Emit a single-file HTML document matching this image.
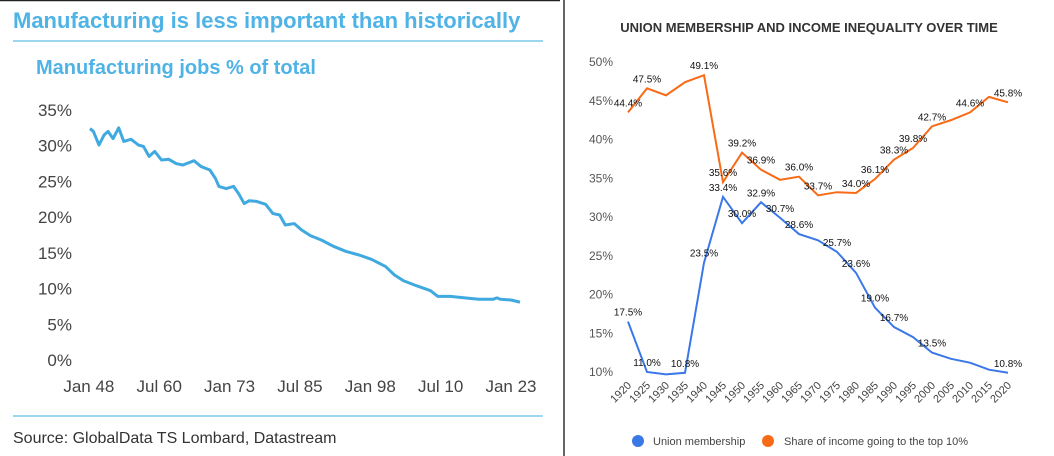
<!DOCTYPE html>
<html><head><meta charset="utf-8">
<style>
body{margin:0;width:1054px;height:456px;background:#fff;overflow:hidden;font-family:"Liberation Sans",sans-serif}
svg{position:absolute;left:0;top:0}
</style></head>
<body>
<svg id="s" width="1054" height="456">
<rect x="0" y="0" width="1054" height="456" fill="#fff"/>
<line x1="0" y1="0.5" x2="560" y2="0.5" stroke="#222" stroke-width="1.5"/>
<line x1="564" y1="0" x2="564" y2="456" stroke="#333" stroke-width="1.5"/>
<text x="13" y="28" font-size="22" font-weight="bold" fill="#4fb3e6">Manufacturing is less important than historically</text>
<line x1="13" y1="41" x2="543" y2="41" stroke="#7cc8ec" stroke-width="1.5"/>
<text x="36" y="74" font-size="20" font-weight="bold" fill="#4fb3e6">Manufacturing jobs % of total</text>
<line x1="13" y1="416" x2="543" y2="416" stroke="#7cc8ec" stroke-width="1.5"/>
<text x="13" y="443" font-size="16" fill="#333">Source: GlobalData TS Lombard, Datastream</text>
<g id="left"></g>
<text x="809" y="32" font-size="13" font-weight="bold" fill="#333" text-anchor="middle">UNION MEMBERSHIP AND INCOME INEQUALITY OVER TIME</text>
<g id="right"></g>
<circle cx="638" cy="441" r="6" fill="#3b78e7"/>
<text x="653" y="445" font-size="11" fill="#444">Union membership</text>
<circle cx="768" cy="441" r="6" fill="#f96a16"/>
<text x="784" y="445" font-size="11" fill="#444">Share of income going to the top 10%</text>
</svg>
<script>
// ---- Left chart data ----
const mfgYears=[1948.2,1948.8,1949.8,1950.7,1951.4,1952.3,1953.3,1954.2,1955.5,1956.8,1957.7,1958.7,1959.7,1960.9,1962.2,1963.5,1964.7,1966.7,1967.9,1969.5,1970.5,1971.1,1972.4,1973.7,1974.6,1975.6,1976.5,1977.8,1979.4,1980.7,1981.9,1982.9,1984.5,1985.8,1987.4,1989.3,1991.5,1993.7,1996.0,1998.2,2000.7,2002.3,2003.9,2006.2,2008.7,2010.0,2012.2,2014.8,2017.3,2019.8,2020.5,2021.1,2023.0,2024.6];
const mfgValues=[32.4,32.0,30.1,31.5,32.0,31.0,32.5,30.6,30.9,30.1,29.9,28.5,29.2,28.0,28.1,27.5,27.3,27.9,27.1,26.6,25.4,24.3,24.0,24.3,23.3,21.9,22.3,22.2,21.8,20.5,20.3,18.9,19.1,18.2,17.4,16.8,15.9,15.2,14.7,14.1,13.1,11.9,11.1,10.4,9.7,8.9,8.9,8.7,8.5,8.5,8.7,8.5,8.4,8.1];
const mfgYTicks=[0,5,10,15,20,25,30,35];
const mfgXTickYears=[1948,1960.5,1973,1985.5,1998,2010.5,2023];
const mfgXTickLabels=["Jan 48","Jul 60","Jan 73","Jul 85","Jan 98","Jul 10","Jan 23"];
// ---- Right chart data ----
const years=[1920,1925,1930,1935,1940,1945,1950,1955,1960,1965,1970,1975,1980,1985,1990,1995,2000,2005,2010,2015,2020];
const unionValues=[16.5,10.0,9.7,9.9,24.1,32.6,29.2,31.9,29.9,27.8,27.0,25.5,22.8,18.3,15.8,14.5,12.5,11.7,11.2,10.3,9.9];
const incomeValues=[43.5,46.6,45.7,47.4,48.3,34.5,38.3,36.1,34.8,35.2,32.8,33.2,33.1,34.9,37.4,38.9,41.7,42.5,43.5,45.5,44.8];
const unionLabels=["17.5%","11.0%",null,"10.8%","23.5%","33.4%","30.0%","32.9%","30.7%","28.6%",null,"25.7%","23.6%","19.0%","16.7%",null,"13.5%",null,null,null,"10.8%"];
const incomeLabels=["44.4%","47.5%",null,null,"49.1%","35.6%","39.2%","36.9%",null,"36.0%","33.7%",null,"34.0%","36.1%","38.3%","39.8%","42.7%",null,"44.6%",null,"45.8%"];
const rYTicks=[10,15,20,25,30,35,40,45,50];

const NS="http://www.w3.org/2000/svg";
function mk(tag,attrs,parent){const e=document.createElementNS(NS,tag);for(const k in attrs)e.setAttribute(k,attrs[k]);parent.appendChild(e);return e;}

// left axes
const L=document.getElementById('left');
const lx=y=>90+(y-1948.2)*(430/(2024.6-1948.2));
const ly=v=>360-v*(250/35);
mfgYTicks.forEach(v=>{const t=mk('text',{x:72,y:ly(v)+6,'font-size':17,fill:'#444','text-anchor':'end'},L);t.textContent=v+'%';

});
mfgXTickYears.forEach((y,i)=>{const t=mk('text',{x:lx(y),y:392,'font-size':17,fill:'#444','text-anchor':'middle'},L);t.textContent=mfgXTickLabels[i];

});
const lp=mk('polyline',{points:mfgYears.map((y,i)=>lx(y)+','+ly(mfgValues[i])).join(' '),fill:'none',stroke:'#3fa9e0','stroke-width':3,'stroke-linejoin':'round'},L);



// right axes
const R=document.getElementById('right');
const rx=y=>628+(y-1920)*3.8;
const ry=v=>372-(v-10)*7.75;
rYTicks.forEach(v=>{const t=mk('text',{x:613,y:ry(v)+4,'font-size':12,fill:'#555','text-anchor':'end'},R);t.textContent=v+'%';

});
years.forEach(y=>{const x=rx(y)+4,yy=386;const t=mk('text',{x:x,y:yy,'font-size':11,fill:'#444','text-anchor':'end',transform:`rotate(-45 ${x} ${yy})`},R);t.textContent=y;

});
const up=mk('polyline',{points:years.map((y,i)=>rx(y)+','+ry(unionValues[i])).join(' '),fill:'none',stroke:'#3b78e7','stroke-width':2},R);


const ip=mk('polyline',{points:years.map((y,i)=>rx(y)+','+ry(incomeValues[i])).join(' '),fill:'none',stroke:'#f96a16','stroke-width':2},R);


function labels(arr,vals,name){arr.forEach((s,i)=>{if(!s)return;const t=mk('text',{x:rx(years[i]),y:ry(vals[i])-6,'font-size':10,fill:'#111','text-anchor':'middle'},R);t.textContent=s;

});}
labels(unionLabels,unionValues,'union-value-label');
labels(incomeLabels,incomeValues,'income-value-label');
</script>
</body></html>
